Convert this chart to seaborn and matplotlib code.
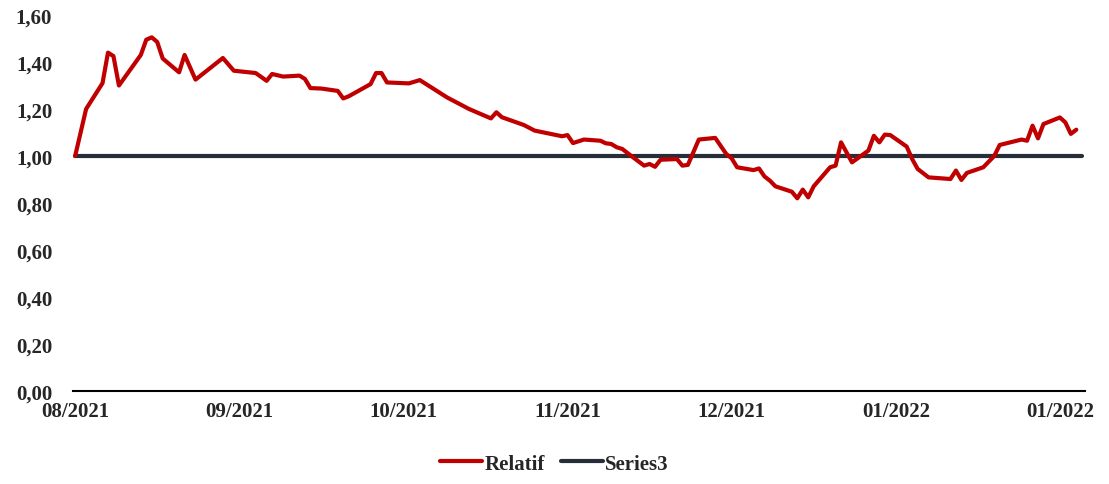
import pandas as pd
import matplotlib.pyplot as plt
import seaborn as sns
from matplotlib.lines import Line2D

START = pd.Timestamp("2021-08-04")

# day offsets from START and the Relatif value read at each turning point
relatif_days = [0, 2, 5, 6, 7, 8, 12, 13, 14, 15, 16, 19, 20, 22, 27, 29, 33, 35, 36, 38,
                41, 42, 43, 45, 48, 49, 50, 54, 55, 56, 57, 61, 63, 68, 72, 76, 77, 78, 82, 84,
                89, 90, 91, 93, 96, 97, 98, 99, 100, 102, 104, 105, 106, 107, 110, 111, 112, 114, 117, 119,
                120, 121, 124, 125, 126, 127, 128, 131, 132, 133, 134, 135, 138, 139, 140, 142, 145, 146, 147, 148,
                149, 152, 153, 154, 156, 160, 161, 162, 163, 166, 168, 169, 173, 174, 175, 176, 177, 180, 181, 182,
                183]
relatif_vals = [1.00, 1.20, 1.31, 1.44, 1.425, 1.30, 1.43, 1.495, 1.505, 1.485, 1.415, 1.356, 1.43, 1.325, 1.417, 1.363, 1.353, 1.32, 1.349, 1.338,
                1.342, 1.328, 1.289, 1.287, 1.277, 1.245, 1.254, 1.306, 1.353, 1.353, 1.313, 1.309, 1.323, 1.249, 1.20, 1.16, 1.186, 1.165, 1.132, 1.108,
                1.084, 1.089, 1.055, 1.07, 1.065, 1.054, 1.051, 1.037, 1.03, 0.994, 0.959, 0.966, 0.954, 0.984, 0.987, 0.959, 0.962, 1.07, 1.077, 1.009,
                0.99, 0.952, 0.94, 0.947, 0.913, 0.895, 0.871, 0.848, 0.82, 0.857, 0.824, 0.871, 0.952, 0.959, 1.058, 0.973, 1.023, 1.086, 1.058, 1.091,
                1.089, 1.04, 0.987, 0.945, 0.909, 0.902, 0.938, 0.898, 0.928, 0.952, 1.0, 1.047, 1.07, 1.065, 1.129, 1.075, 1.136, 1.164, 1.143, 1.094,
                1.112]

series3_days = [0, 184]
series3_vals = [1.0, 1.0]

tick_days = [0, 30, 60, 90, 120, 150, 180]
y_ticks = [0.0, 0.2, 0.4, 0.6, 0.8, 1.0, 1.2, 1.4, 1.6]

RED = "#C00000"
DARK = "#262E3A"

df = pd.concat([
    pd.DataFrame({"date": START + pd.to_timedelta(relatif_days, unit="D"),
                  "value": relatif_vals, "serie": "Relatif"}),
    pd.DataFrame({"date": START + pd.to_timedelta(series3_days, unit="D"),
                  "value": series3_vals, "serie": "Series3"}),
])

sns.set_theme(style="white")
plt.rcParams["font.family"] = ["Liberation Serif", "DejaVu Serif"]
plt.rcParams["font.weight"] = "bold"

fig = plt.figure(figsize=(11.09, 4.85), dpi=100)
ax = fig.add_axes([0.0658, 0.1918, 0.9126, 0.7752])

sns.lineplot(data=df, x="date", y="value", hue="serie", hue_order=["Series3", "Relatif"],
             palette={"Relatif": RED, "Series3": DARK}, linewidth=3.0,
             legend=False, ax=ax)
for ln in ax.get_lines():
    ln.set_solid_capstyle("round")
    ln.set_solid_joinstyle("round")

ax.set_xlim(START - pd.Timedelta(days=0.4), START + pd.Timedelta(days=184.6))
ax.set_ylim(0, 1.6)
tick_dates = [START + pd.Timedelta(days=d) for d in tick_days]
ax.set_xticks(tick_dates)
ax.set_xticklabels([d.strftime("%m/%Y") for d in tick_dates], fontsize=15, fontweight="bold")
ax.set_yticks(y_ticks)
ax.set_yticklabels([f"{v:.2f}".replace(".", ",") for v in y_ticks], fontsize=15, fontweight="bold")
ax.tick_params(axis="y", length=0, pad=15)
ax.tick_params(axis="x", length=0, pad=7)
ax.set_xlabel("")
ax.set_ylabel("")

for s in ["top", "right", "left"]:
    ax.spines[s].set_visible(False)
ax.spines["bottom"].set_color("black")
ax.spines["bottom"].set_linewidth(1.5)

handles = [Line2D([], [], color=RED, lw=3.0), Line2D([], [], color=DARK, lw=3.0)]
fig.legend(handles, ["Relatif", "Series3"], loc="center", bbox_to_anchor=(0.5, 0.042), ncol=2,
           frameon=False, prop={"size": 15, "weight": "bold"}, handlelength=2.0,
           handletextpad=0.1, columnspacing=0.8)

fig.savefig("out.png", dpi=100)
